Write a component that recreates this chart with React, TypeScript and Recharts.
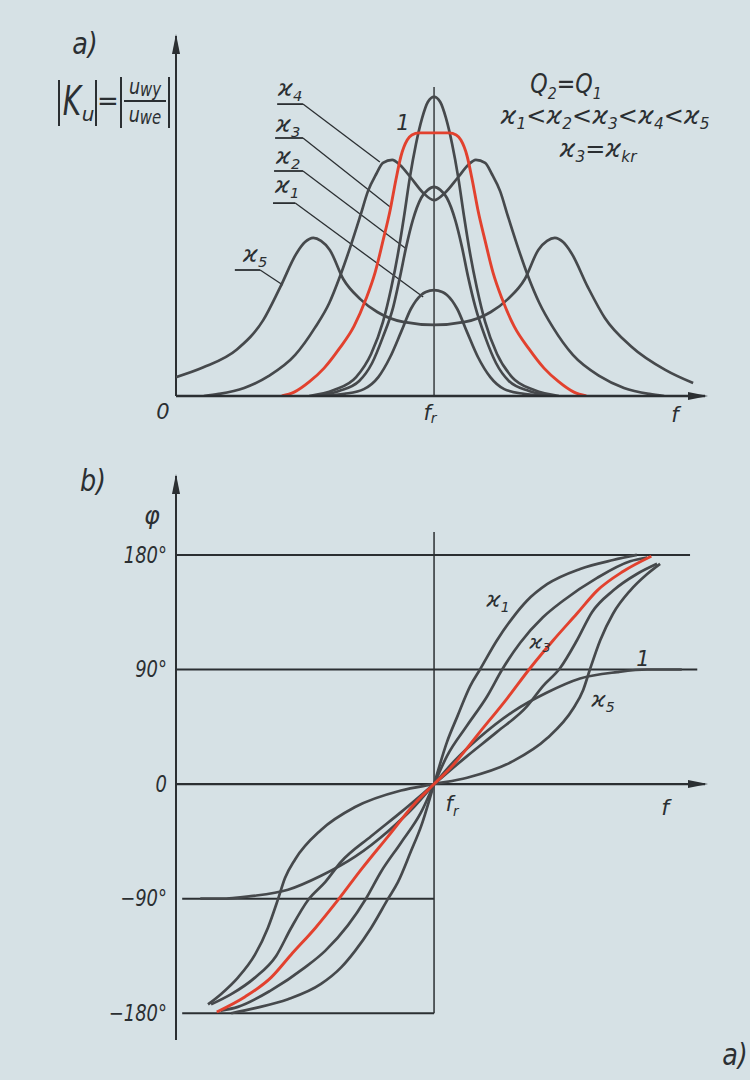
import React from "react";
import { LineChart, Line, XAxis, YAxis, ReferenceLine, ReferenceDot } from "recharts";

type Pt = [number, number];

// frequency axis: 0..102.5, f_r at 50
// (a) |Ku| in % of the single-circuit peak
const ampOne: Pt[] = [
  [25.8, 0], [30.6, 2], [34.9, 6.3], [37.8, 14], [40.1, 24.7], [41.7, 36], [43.0, 47.3], [44.2, 60],
  [45.3, 72.7], [46.5, 84], [47.7, 92.7], [48.8, 98], [50, 99.7], [51.2, 98], [52.3, 92.7], [53.5, 84],
  [54.7, 72.7], [55.8, 60], [57.0, 47.3], [58.3, 36], [59.9, 24.7], [62.2, 14], [65.1, 6.3], [69.4, 2], [74.2, 0],
];
const ampK1: Pt[] = [
  [28.7, 0], [32.6, 0.7], [36.4, 2.3], [39.2, 6.3], [41.5, 13], [43.6, 21.3], [45.5, 29], [47.5, 33.7],
  [48.4, 34.7], [50, 35.3], [51.6, 34.7], [52.5, 33.7], [54.5, 29], [56.4, 21.3], [58.5, 13], [60.9, 6.3],
  [63.6, 2.3], [67.4, 0.7], [71.3, 0],
];
const ampK2: Pt[] = [
  [26.7, 0], [31.6, 1.7], [35.5, 5], [38.0, 11], [40.1, 19.7], [42.1, 29.7], [43.4, 39.7], [44.6, 49.7],
  [45.9, 58.7], [47.5, 66], [48.8, 68.7], [50, 69.7], [51.2, 68.7], [52.5, 66], [54.1, 58.7], [55.4, 49.7],
  [56.6, 39.7], [58.0, 29.7], [59.9, 19.7], [62.0, 11], [64.5, 5], [68.4, 1.7], [73.3, 0],
];
const ampK3: Pt[] = [
  [20.5, 0], [22.9, 1.3], [25.8, 4.7], [28.7, 9.3], [31.6, 15.7], [34.5, 23.3], [36.8, 32.3], [38.6, 41.3],
  [40.1, 51.7], [41.5, 62], [42.6, 72], [43.6, 80], [44.8, 85.3], [45.7, 87], [47.1, 87.7], [50, 87.7],
  [52.9, 87.7], [54.3, 87], [55.2, 85.3], [56.4, 80], [57.4, 72], [58.5, 62], [59.9, 51.7], [61.4, 41.3],
  [63.2, 32.3], [65.5, 23.3], [68.4, 15.7], [71.3, 9.3], [74.2, 4.7], [77.1, 1.3], [79.5, 0],
];
const ampK4: Pt[] = [
  [5.4, 0], [8.3, 0.7], [13.2, 2.7], [18.0, 6.7], [23.1, 13.7], [26.9, 22.7], [29.7, 31], [31.8, 40],
  [33.7, 49.3], [35.7, 60], [37.2, 68.3], [38.8, 74], [40.1, 77.7], [41.9, 78.7], [43.4, 77], [45.4, 73],
  [47.9, 67.7], [50, 65.3], [52.1, 67.7], [54.7, 73], [56.6, 77], [58.1, 78.7], [59.9, 77.7], [61.2, 74],
  [62.8, 68.3], [64.3, 60], [66.3, 49.3], [68.2, 40], [70.4, 31], [73.1, 22.7], [76.9, 13.7], [82.0, 6.7],
  [86.8, 2.7], [91.7, 0.7], [94.6, 0],
];
const ampK5: Pt[] = [
  [0, 6.3], [5.2, 9.5], [11.8, 15.5], [16.9, 25.3], [20.2, 36.3], [23.4, 47.7], [25.0, 51.3], [26.6, 52.7],
  [28.1, 51.7], [29.8, 48.7], [32.4, 39], [35.7, 32.3], [39.0, 28], [44.0, 24.7], [50, 23.7],
  [56.0, 24.7], [61.0, 28], [64.3, 32.3], [67.6, 39], [70.2, 48.7], [71.9, 51.7], [73.4, 52.7], [75.0, 51.3],
  [76.6, 47.7], [79.8, 36.3], [83.1, 26], [88.2, 16.5], [94.8, 8.7], [100.2, 4.3],
];

// (b) phase in degrees
const phOne: Pt[] = [
  [4.7, -90], [8.7, -90], [14.5, -88], [21.7, -83], [28.1, -72], [34.7, -57], [41.1, -37], [46.1, -18],
  [50, 0], [53.9, 18], [58.9, 37], [65.3, 57], [71.9, 72], [78.3, 83], [85.5, 88], [91.3, 90], [98, 90],
];
const phK1: Pt[] = [
  [10.7, -180], [15.3, -176], [21.7, -169], [28.1, -157], [32.0, -144], [34.7, -131], [37.8, -113], [41.1, -90],
  [43.0, -77], [45.5, -53], [47.5, -33], [50, 0], [52.5, 33], [54.5, 53], [57.0, 77], [58.9, 90], [62.2, 113],
  [65.3, 131], [68.0, 144], [71.9, 157], [78.3, 169], [84.7, 176], [89.3, 180],
];
const phK2: Pt[] = [
  [8.7, -178], [12.0, -175], [18.4, -162], [25.0, -144], [28.9, -131], [33.3, -111], [36.8, -90], [39.7, -69],
  [43.6, -46], [47.5, -22], [50, 0], [52.5, 22], [56.4, 46], [60.3, 69], [63.2, 90], [66.7, 111], [71.1, 131],
  [75.0, 144], [81.6, 162], [88.0, 175], [91.3, 178],
];
const phK3: Pt[] = [
  [7.9, -179], [13.4, -167], [18.4, -152], [22.3, -134], [27.0, -113], [31.4, -91], [35.9, -67], [41.1, -41],
  [46.3, -15], [50, 0], [53.7, 15], [58.9, 41], [64.1, 67], [68.6, 91], [73.1, 113], [77.7, 134], [81.6, 152],
  [86.6, 167], [92.1, 179],
];
const phK4: Pt[] = [
  [6.8, -173], [10.7, -165], [15.3, -152], [19.4, -135], [22.3, -113], [25.6, -91], [28.9, -77], [32.0, -61],
  [37.8, -41], [43.6, -22], [50, 0], [56.4, 22], [62.2, 41], [68.0, 61], [71.1, 77], [74.4, 91], [77.7, 113],
  [80.6, 135], [84.7, 152], [89.3, 165], [93.2, 173],
];
const phK5: Pt[] = [
  [6.2, -173], [8.7, -165], [12.0, -152], [15.3, -134], [17.8, -113], [19.8, -90], [21.1, -74], [23.1, -59],
  [28.1, -36], [34.7, -18], [43.6, -5], [50, 0], [56.4, 5], [65.3, 18], [71.9, 36], [76.9, 59], [78.9, 74],
  [80.2, 90], [82.2, 113], [84.7, 134], [88.0, 152], [91.3, 165], [93.8, 173],
];

// label leaders in (a): underline start, underline end, point on curve
const leaders: Pt[][] = [
  [[19.6, 97.3], [24.6, 97.3], [39.5, 78]],
  [[19.2, 86], [24.6, 86], [41.5, 63]],
  [[19.0, 75], [24.6, 75], [44.4, 49.3]],
  [[18.8, 64.3], [23.1, 64.3], [47.9, 33]],
  [[11.4, 42], [16.3, 42], [20.7, 37]],
];

const freqTicks = [0, 50, 96.7];
const phaseTicks = [-180, -90, 0, 90, 180];

const paper = "#d6e1e5";
const ink = "#2b2f32";
const curveInk = "#46494c";
const red = "#e2412e";
const font = "'DejaVu Sans', 'Liberation Sans', sans-serif";

const rows = (pts: Pt[]) => pts.map(([x, y]) => ({ x, y }));

const arrowRight = (p: any) => (
  <path d={`M${p.cx + 3},${p.cy} l-20,-4 l0,8 z`} fill={ink} />
);
const arrowUp = (p: any) => (
  <path d={`M${p.cx},${p.cy - 2} l-4,20 l8,0 z`} fill={ink} />
);

function FreqTick(props: any) {
  const { x, y, payload } = props;
  const common = { fill: ink, fontFamily: font, fontStyle: "italic", fontSize: 21, dominantBaseline: "central" as const };
  if (payload.value === 0) return <text x={x - 13} y={y} textAnchor="middle" {...common}>0</text>;
  if (payload.value === 50)
    return (
      <text x={x - 4} y={y + 1} textAnchor="middle" {...common}>
        <tspan>f</tspan>
        <tspan fontSize={14} dy={5}>r</tspan>
      </text>
    );
  return <text x={x} y={y + 3} textAnchor="middle" {...common}>f</text>;
}

function PhaseTick(props: any) {
  const { x, y, payload } = props;
  const v = payload.value as number;
  const label = v === 0 ? "0" : `${v < 0 ? "−" : ""}${Math.abs(v)}°`;
  return (
    <text x={x} y={y} textAnchor="end" dominantBaseline="central" fill={ink} fontFamily={font}
      fontStyle="italic" fontSize={23} transform={`translate(${x} ${y}) scale(0.78 1) translate(${-x} ${-y})`}>
      {label}
    </text>
  );
}

function T({ x, y, size = 22, sx = 1, children }: any) {
  return (
    <div style={{
      position: "absolute", left: x, top: y, transform: `translate(-50%, -50%) scaleX(${sx})`,
      fontFamily: font, fontStyle: "italic", fontSize: size, lineHeight: 1, color: ink, whiteSpace: "nowrap",
    }}>
      {children}
    </div>
  );
}

const Sub = ({ children, s = 0.64, d = 0.34 }: any) => (
  <span style={{ fontSize: `${s}em`, position: "relative", top: `${d}em` }}>{children}</span>
);
const Kap = ({ n }: { n: string }) => <>ϰ<Sub>{n}</Sub></>;

const Bar = ({ x, y, h }: { x: number; y: number; h: number }) => (
  <div style={{ position: "absolute", left: x, top: y, width: 2, height: h, background: ink }} />
);

const seg = (a: Pt, b: Pt) => [{ x: a[0], y: a[1] }, { x: b[0], y: b[1] }];

export default function App() {
  return (
    <div style={{ position: "absolute", left: 0, top: 0, width: 750, height: 1080, background: paper, overflow: "hidden" }}>
      {/* (a) amplitude */}
      <div style={{ position: "absolute", left: 0, top: 0 }}>
        <LineChart width={750} height={440} margin={{ top: 36, right: 45, bottom: 14, left: 176 }}>
          <XAxis type="number" dataKey="x" domain={[0, 102.5]} allowDataOverflow ticks={freqTicks} tick={<FreqTick />}
            tickLine={false} tickSize={0} tickMargin={16} height={30} axisLine={{ stroke: ink, strokeWidth: 2.5 }} />
          <YAxis type="number" dataKey="y" domain={[0, 120]} allowDataOverflow hide />
          <ReferenceLine segment={seg([0, 0], [0, 120])} stroke={ink} strokeWidth={2} ifOverflow="visible" />
          <ReferenceLine segment={seg([50, 0], [50, 103])} stroke={ink} strokeWidth={1.4} ifOverflow="visible" />
          {leaders.map((l, i) => (
            <ReferenceLine key={`u${i}`} segment={seg(l[0], l[1])} stroke={ink} strokeWidth={1.8} ifOverflow="visible" />
          ))}
          {leaders.map((l, i) => (
            <ReferenceLine key={`l${i}`} segment={seg(l[1], l[2])} stroke={ink} strokeWidth={1.3} ifOverflow="visible" />
          ))}
          <ReferenceDot x={102.5} y={0} r={0} shape={arrowRight} ifOverflow="visible" />
          <ReferenceDot x={0} y={120} r={0} shape={arrowUp} ifOverflow="visible" />
          <Line data={rows(ampK5)} dataKey="y" name="k5" type="monotone" dot={false} stroke={curveInk} strokeWidth={2.7} isAnimationActive={false} />
          <Line data={rows(ampK4)} dataKey="y" name="k4" type="monotone" dot={false} stroke={curveInk} strokeWidth={2.7} isAnimationActive={false} />
          <Line data={rows(ampK1)} dataKey="y" name="k1" type="monotone" dot={false} stroke={curveInk} strokeWidth={2.7} isAnimationActive={false} />
          <Line data={rows(ampK2)} dataKey="y" name="k2" type="monotone" dot={false} stroke={curveInk} strokeWidth={2.7} isAnimationActive={false} />
          <Line data={rows(ampOne)} dataKey="y" name="one" type="monotone" dot={false} stroke={curveInk} strokeWidth={2.7} isAnimationActive={false} />
          <Line data={rows(ampK3)} dataKey="y" name="k3" type="monotone" dot={false} stroke={red} strokeWidth={2.9} isAnimationActive={false} />
        </LineChart>
      </div>

      {/* (b) phase */}
      <div style={{ position: "absolute", left: 0, top: 440 }}>
        <LineChart width={750} height={640} margin={{ top: 36, right: 45, bottom: 40, left: 116 }}>
          <XAxis type="number" dataKey="x" domain={[0, 102.5]} allowDataOverflow hide />
          <YAxis type="number" dataKey="y" domain={[-201, 242]} allowDataOverflow width={60} ticks={phaseTicks}
            tick={<PhaseTick />} tickLine={false} tickSize={0} tickMargin={9} axisLine={{ stroke: ink, strokeWidth: 2 }} />
          <ReferenceLine segment={seg([0, 180], [99.6, 180])} stroke={ink} strokeWidth={2} ifOverflow="visible" />
          <ReferenceLine segment={seg([0, 90], [101, 90])} stroke={ink} strokeWidth={2} ifOverflow="visible" />
          <ReferenceLine segment={seg([0, 0], [102.5, 0])} stroke={ink} strokeWidth={2.2} ifOverflow="visible" />
          <ReferenceLine segment={seg([1.2, -90], [50, -90])} stroke={ink} strokeWidth={2} ifOverflow="visible" />
          <ReferenceLine segment={seg([1.2, -180], [50, -180])} stroke={ink} strokeWidth={2} ifOverflow="visible" />
          <ReferenceLine segment={seg([50, -180], [50, 198])} stroke={ink} strokeWidth={1.5} ifOverflow="visible" />
          <ReferenceDot x={102.5} y={0} r={0} shape={arrowRight} ifOverflow="visible" />
          <ReferenceDot x={0} y={242} r={0} shape={arrowUp} ifOverflow="visible" />
          <Line data={rows(phOne)} dataKey="y" name="one" type="monotone" dot={false} stroke={curveInk} strokeWidth={2.7} isAnimationActive={false} />
          <Line data={rows(phK1)} dataKey="y" name="k1" type="monotone" dot={false} stroke={curveInk} strokeWidth={2.7} isAnimationActive={false} />
          <Line data={rows(phK2)} dataKey="y" name="k2" type="monotone" dot={false} stroke={curveInk} strokeWidth={2.7} isAnimationActive={false} />
          <Line data={rows(phK4)} dataKey="y" name="k4" type="monotone" dot={false} stroke={curveInk} strokeWidth={2.7} isAnimationActive={false} />
          <Line data={rows(phK5)} dataKey="y" name="k5" type="monotone" dot={false} stroke={curveInk} strokeWidth={2.7} isAnimationActive={false} />
          <Line data={rows(phK3)} dataKey="y" name="k3" type="monotone" dot={false} stroke={red} strokeWidth={2.9} isAnimationActive={false} />
        </LineChart>
      </div>

      {/* texts of (a) */}
      <T x={85} y={44} size={30} sx={0.85}>a)</T>
      <Bar x={58} y={80} h={46} />
      <T x={72} y={101} size={40} sx={0.7}>K</T>
      <T x={88} y={114} size={20}>u</T>
      <Bar x={95} y={80} h={46} />
      <T x={108} y={101} size={26}>=</T>
      <Bar x={120} y={77} h={51} />
      <T x={145} y={87} size={22} sx={0.8}>u<Sub s={0.85} d={0.12}>wy</Sub></T>
      <div style={{ position: "absolute", left: 124, top: 100, width: 42, height: 2, background: ink }} />
      <T x={145} y={115} size={22} sx={0.8}>u<Sub s={0.85} d={0.12}>we</Sub></T>
      <Bar x={168} y={77} h={51} />

      <T x={290} y={88} size={23}><Kap n="4" /></T>
      <T x={288} y={124} size={23}><Kap n="3" /></T>
      <T x={288} y={156} size={23}><Kap n="2" /></T>
      <T x={287} y={185} size={23}><Kap n="1" /></T>
      <T x={255} y={254} size={23}><Kap n="5" /></T>
      <T x={403} y={123} size={21}>1</T>

      <T x={566} y={84} size={26} sx={0.85}>Q<Sub>2</Sub>=Q<Sub>1</Sub></T>
      <T x={605} y={116} size={24}>
        <Kap n="1" />&lt;<Kap n="2" />&lt;<Kap n="3" />&lt;<Kap n="4" />&lt;<Kap n="5" />
      </T>
      <T x={598} y={149} size={24}><Kap n="3" />=ϰ<Sub>kr</Sub></T>

      {/* texts of (b) */}
      <T x={93} y={481} size={30} sx={0.85}>b)</T>
      <T x={152} y={516} size={24}>φ</T>
      <T x={452} y={804} size={21}>f<Sub>r</Sub></T>
      <T x={665} y={808} size={22}>f</T>
      <T x={498} y={600} size={22}><Kap n="1" /></T>
      <T x={540} y={641} size={20}><Kap n="3" /></T>
      <T x={643} y={659} size={21}>1</T>
      <T x={603} y={700} size={22}><Kap n="5" /></T>
      <T x={735} y={1055} size={30} sx={0.85}>a)</T>
    </div>
  );
}
